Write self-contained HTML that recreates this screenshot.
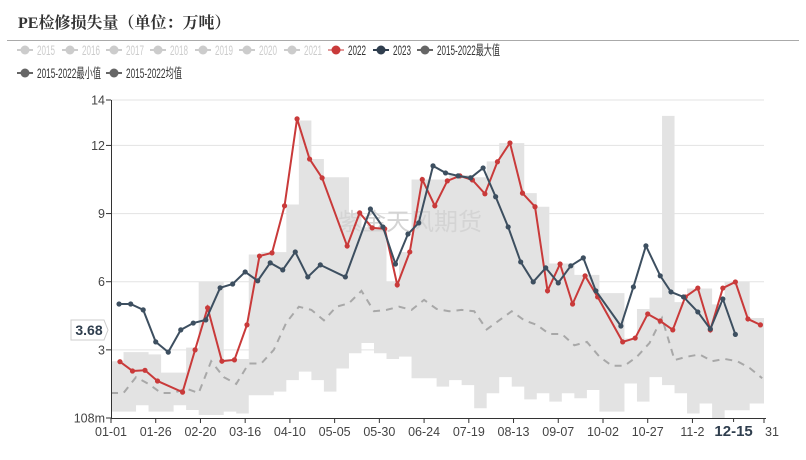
<!DOCTYPE html>
<html><head><meta charset="utf-8">
<style>
body{margin:0;background:#fff;font-family:"Liberation Sans","Noto Sans CJK SC",sans-serif;}
#wrap{position:relative;width:806px;height:460px;overflow:hidden;}
</style></head>
<body>
<div id="wrap">
<svg id="chart" width="806" height="460" xmlns="http://www.w3.org/2000/svg">
  <text x="18" y="28" font-family="'Liberation Serif','Noto Serif CJK SC',serif" font-weight="bold" font-size="16" fill="#333">PE检修损失量（单位：万吨）</text>
  <line x1="7" y1="40.5" x2="799" y2="40.5" stroke="#aaa" stroke-width="1"/>
  <g id="legend"></g>
  <g id="grid"></g>
  <g id="band"></g>
  <text x="410" y="230" font-size="24" fill="#d4d4d4" text-anchor="middle">紫金天风期货</text>
  <g id="series"></g>
  <g id="axes"></g>
</svg>
</div>
<script>
// ---- data ----
const maxWeekly=[2.5,2.9,2.9,2.8,2.0,2.0,3.1,6.0,6.0,2.6,2.6,7.2,7.3,7.3,9.4,13.1,11.4,10.6,10.6,9.0,8.4,8.4,6.0,7.3,10.5,10.5,10.5,10.7,10.7,10.6,11.3,12.1,12.1,9.9,9.3,6.8,6.8,6.3,6.3,5.5,5.5,3.5,4.8,5.3,13.3,5.1,5.7,5.7,5.0,6.0,6.0,4.4,4.4];
const minWeekly=[0.28,0.28,0.56,0.28,0.28,0.56,0.35,0.13,0.13,0.28,0.2,1.0,1.0,1.16,1.67,2.04,1.67,1.16,2.18,2.85,3.3,2.85,2.6,2.7,1.75,1.75,1.38,1.67,1.45,0.43,1.09,1.8,1.38,0.82,1.09,0.72,1.09,0.87,1.23,0.28,0.28,1.52,0.72,1.8,1.45,1.09,0.2,0.64,0.0,0.34,0.34,0.64,0.64];
const avgWeekly=[1.1,1.1,1.8,1.5,1.1,1.1,1.3,1.1,2.5,1.8,1.5,2.4,2.4,3.0,4.2,4.9,4.76,4.3,4.9,5.05,5.6,4.7,4.76,4.9,4.76,5.2,4.8,4.7,4.76,4.7,3.9,4.3,4.7,4.3,4.1,3.7,3.7,3.2,3.35,2.7,2.3,2.3,2.7,3.3,4.4,2.55,2.7,2.8,2.5,2.6,2.5,2.2,1.75];
const days2022=[5,12,19,26,40,47,54,62,69,76,83,90,97,104,111,118,132,139,146,153,160,167,174,181,188,195,202,209,216,223,230,237,244,251,258,265,272,286,293,300,307,314,321,328,335,342,349,356,363];
const vals2022=[2.48,2.07,2.1,1.63,1.14,3.0,4.85,2.5,2.56,4.1,7.13,7.27,9.34,13.17,11.4,10.57,7.57,9.03,8.37,8.33,5.86,7.31,10.5,9.34,10.44,10.66,10.48,9.87,11.28,12.11,9.9,9.3,5.6,6.78,5.02,6.26,5.33,3.35,3.52,4.58,4.27,3.88,5.33,5.72,3.88,5.72,5.99,4.36,4.1];
const days2023=[4.5,11,18,25,32,39,46,53,61,68,75,82,89,96,103,110,117,131,145,152,159,166,172,180,187,194,201,208,215,222,229,236,243,250,257,264,271,285,292,299,307,313,320,328,335,342,349];
const vals2023=[5.02,5.02,4.76,3.35,2.9,3.88,4.18,4.32,5.73,5.9,6.43,6.04,6.83,6.52,7.31,6.21,6.74,6.21,9.2,8.41,6.78,8.1,8.59,11.1,10.79,10.66,10.57,11.01,9.74,8.41,6.87,5.99,6.61,5.95,6.7,7.05,5.6,4.05,5.77,7.58,6.26,5.55,5.33,4.67,3.92,5.24,3.68];
const yTicks=[0,3,6,9,12,14];
const yTickLabels=["108m","3","6","9","12","14"];
const xTickDays=[0,25,50,75,100,125,150,175,200,225,250,275,300,325,348,365];
const xTickLabels=["01-01","01-26","02-20","03-16","04-10","05-05","05-30","06-24","07-19","08-13","09-07","10-02","10-27","11-2","12-15","31"];
// ---- scales ----
const X0=111,X1=764,Y0=418,Y1=100;
const xs=d=>X0+(X1-X0)*d/365;
const ys=v=>Y0-(Y0-Y1)*v/14;
const NS="http://www.w3.org/2000/svg";
function mk(tag,attrs,parent){const e=document.createElementNS(NS,tag);for(const k in attrs)e.setAttribute(k,attrs[k]);parent.appendChild(e);return e;}
const gridG=document.getElementById('grid'),bandG=document.getElementById('band'),serG=document.getElementById('series'),axesG=document.getElementById('axes'),legG=document.getElementById('legend');
yTicks.forEach((t,i)=>{
  if(t>0){const l=mk('line',{x1:X0,x2:X1,y1:ys(t),y2:ys(t),stroke:'#e3e3e3'},gridG);
  
  }
  const tk=mk('line',{x1:X0-5,x2:X0,y1:ys(t),y2:ys(t),stroke:'#333'},axesG);
  
  
  const tx=mk('text',{x:X0-6,y:ys(t)+4.5,'text-anchor':'end','font-size':12.5,fill:'#444'},axesG);
  tx.textContent=yTickLabels[i];
  
  
});
let topPath='',botPath='';
maxWeekly.forEach((v,i)=>{const a=xs(Math.min(i*7,365)),b=xs(Math.min(i*7+7,365));topPath+=`L${a},${ys(v)} L${b},${ys(v)} `;});
for(let i=minWeekly.length-1;i>=0;i--){const a=xs(Math.min(i*7,365)),b=xs(Math.min(i*7+7,365));botPath+=`L${b},${ys(minWeekly[i])} L${a},${ys(minWeekly[i])} `;}
const bp=mk('path',{d:'M'+topPath.slice(1)+botPath+'Z',fill:'#e3e3e3'},bandG);


const ap=mk('polyline',{points:avgWeekly.map((v,i)=>`${xs(Math.min(i*7,365))},${ys(v)}`).join(' '),fill:'none',stroke:'#a8a8a8','stroke-width':2,'stroke-dasharray':'7,6'},serG);


function drawLine(days,vals,color,name){
  const p=mk('polyline',{points:days.map((d,i)=>`${xs(d)},${ys(vals[i])}`).join(' '),fill:'none',stroke:color,'stroke-width':2},serG);
  
  
  days.forEach((d,i)=>{const c=mk('circle',{cx:xs(d),cy:ys(vals[i]),r:2.6,fill:color},serG);
    
    });
}
drawLine(days2022,vals2022,'#c93a3a','series-2022');
drawLine(days2023,vals2023,'#3d4f60','series-2023');
const xa=mk('line',{x1:X0,x2:X1+2,y1:Y0+0.5,y2:Y0+0.5,stroke:'#333'},axesG);


const ya=mk('line',{x1:X0+0.5,x2:X0+0.5,y1:Y1,y2:Y0,stroke:'#333'},axesG);


xTickDays.forEach((d,i)=>{
  const tk=mk('line',{x1:xs(d),x2:xs(d),y1:Y0,y2:Y0+5,stroke:'#333'},axesG);
  
  
  const lab=xTickLabels[i];
  const bold=lab==='12-15';
  if(bold){const r=mk('rect',{x:xs(d)-28,y:Y0+4,width:56,height:20,fill:'#fff'},axesG);
    
    }
  const tx=mk('text',{x:lab==='31'?xs(d)+8:xs(d),y:Y0+18,'text-anchor':'middle','font-size':bold?15:12.5,'font-weight':bold?'bold':'normal',fill:bold?'#2f3e4e':'#444'},axesG);
  tx.textContent=lab;
  
  
});
const pr=mk('path',{d:'M71,320 L104,320 L108,330 L104,340 L71,340 Z',fill:'#fff',stroke:'#ccc'},axesG);


const pt=mk('text',{x:89,y:335,'text-anchor':'middle','font-size':14,'font-weight':'bold',fill:'#2f3e4e'},axesG);
pt.textContent='3.68';


const legItems=[["2015",17,50,"#ccc","#ccc",18],["2016",62,50,"#ccc","#ccc",18],["2017",106,50,"#ccc","#ccc",18],["2018",150,50,"#ccc","#ccc",18],["2019",195,50,"#ccc","#ccc",18],["2020",239,50,"#ccc","#ccc",18],["2021",284,50,"#ccc","#ccc",18],["2022",328,50,"#c93a3a","#333",18],["2023",373,50,"#2f3e4e","#333",18],["2015-2022最大值",417,50,"#666","#333",63],["2015-2022最小值",17,73,"#666","#333",64],["2015-2022均值",106,73,"#666","#333",56]];
legItems.forEach(it=>{
  const g=mk('g',{},legG);
  
  
  mk('line',{x1:it[1],x2:it[1]+16,y1:it[2],y2:it[2],stroke:it[3]==='#c93a3a'?'#e39a9a':it[3],'stroke-width':2},g);
  mk('circle',{cx:it[1]+8,cy:it[2],r:4.5,fill:it[3]},g);
  const t=mk('text',{x:it[1]+20,y:it[2]+5,'font-size':13.5,fill:it[4],textLength:it[5],lengthAdjust:'spacingAndGlyphs'},g);
  t.textContent=it[0];
});
</script>
</body></html>
